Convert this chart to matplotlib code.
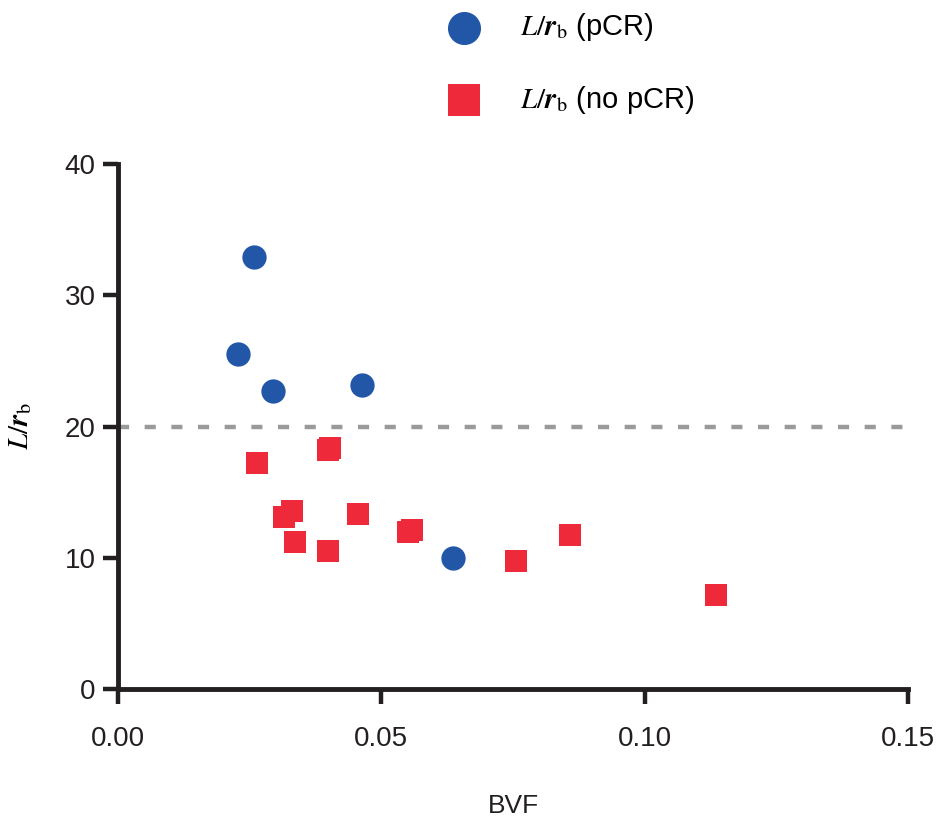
import numpy as np
import matplotlib.pyplot as plt

plt.rcParams['font.family'] = ['Liberation Sans', 'DejaVu Sans']
plt.rcParams['mathtext.fontset'] = 'stix'

# pCR group
bvf_pcr = [0.0258, 0.0228, 0.0294, 0.0463, 0.0636]
lrb_pcr = [32.9, 25.5, 22.7, 23.2, 10.0]

# no pCR group
bvf_nopcr = [0.0264, 0.0398, 0.0403, 0.0316, 0.0331, 0.0337, 0.0398,
             0.0456, 0.0550, 0.0559, 0.0756, 0.0858, 0.1135]
lrb_nopcr = [17.2, 18.2, 18.4, 13.1, 13.6, 11.2, 10.5,
             13.3, 12.0, 12.15, 9.75, 11.7, 7.2]

threshold = 20
xticks = [0.00, 0.05, 0.10, 0.15]
yticks = [0, 10, 20, 30, 40]

blue = '#2257a8'
red = '#ee2a3a'
sym = r'$L/\boldsymbol{r}_{\mathrm{b}}$'

fig = plt.figure(figsize=(9.38, 8.21), dpi=100)
ax = fig.add_axes([0.1258, 0.1608, 0.968 - 0.1258, 0.800 - 0.1608])

# threshold line
ax.axhline(threshold, color='#9a9a9a', lw=3.2, ls=(0, (2.5, 3.5)), zorder=1)

ax.scatter(bvf_pcr, lrb_pcr, s=17.5**2, marker='o', color=blue, lw=0,
           label=sym + ' (pCR)', zorder=3, clip_on=False)
ax.scatter(bvf_nopcr, lrb_nopcr, s=16.5**2, marker='s', color=red, lw=0,
           label=sym + ' (no pCR)', zorder=3, clip_on=False)

ax.set_xlim(0, 0.15)
ax.set_ylim(0, 40)
ax.set_xticks(xticks)
ax.set_xticklabels(['%.2f' % v for v in xticks])
ax.set_yticks(yticks)

for side in ['top', 'right']:
    ax.spines[side].set_visible(False)
for side in ['left', 'bottom']:
    ax.spines[side].set_linewidth(3.5)
    ax.spines[side].set_color('#231f20')
    ax.spines[side].set_capstyle('projecting')
ax.tick_params(axis='both', direction='out', length=11, width=3.2, color='#231f20',
               labelsize=20, labelcolor='#231f20')
ax.tick_params(axis='y', pad=5)
ax.tick_params(axis='x', pad=16)

ax.set_xlabel('BVF', fontsize=19, labelpad=30, color='#231f20')
ax.set_ylabel(sym, fontsize=21, labelpad=22)

leg = ax.legend(loc='upper left', bbox_to_anchor=(0.436, 1.018), bbox_transform=fig.transFigure,
                frameon=False, fontsize=21, labelspacing=1.38, handletextpad=0.9,
                markerscale=1.36)

plt.savefig('out.png', dpi=100)
